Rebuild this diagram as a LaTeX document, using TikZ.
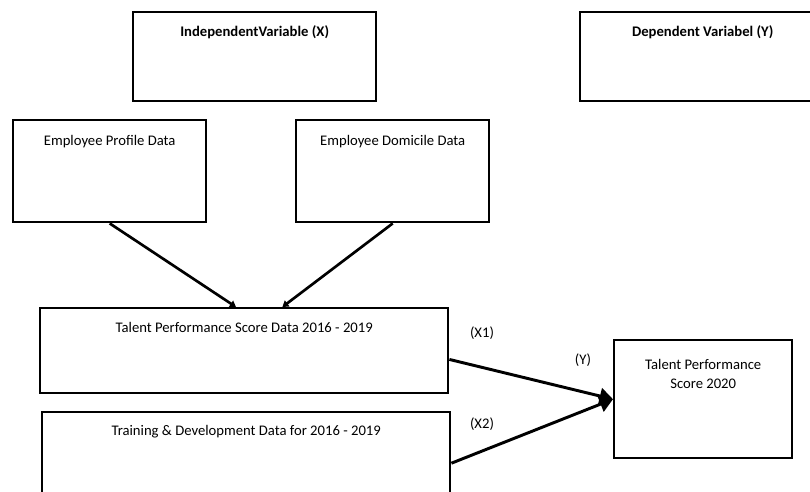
\documentclass[tikz,border=0pt]{standalone}
\usepackage{fontspec}
\setmainfont{Carlito}
\usetikzlibrary{calc, arrows.meta, positioning}

\tikzset{
  box/.style={draw, line width=1.8pt, anchor=north west, inner sep=0pt},
  boxsize/.style 2 args={minimum width=#1*0.75pt, minimum height=#2*0.75pt}
}

\begin{document}
\begin{tikzpicture}[x=0.75pt, y=-0.75pt,
    caption/.style={anchor=base, inner sep=0pt, align=center,
      font=\fontsize{11}{14.25}\selectfont},
    head/.style={caption, font=\fontsize{11}{14.25}\selectfont\bfseries},
    tag/.style={inner sep=0pt, font=\fontsize{11}{14.25}\selectfont},
    feed/.style={line width=2pt, -{Triangle[length=4.5pt,width=5.5pt]}},
    into/.style={line width=2.2pt, -{Triangle[length=10pt,width=12pt]}}]

  \useasboundingbox (0,0) rectangle (810,492);

  % variable headers
  \node[box, boxsize={243}{89}] (indep) at (132,11) {};
  \node[box, boxsize={245}{89}] (dep) at (579,11) {};
  \node[head] (indepT) at ($(indep.north)+(0,26)$) {IndependentVariable (X)};
  \node[head] (depT) at ($(dep.north)+(0,26)$) {Dependent Variabel (Y)};

  % source data
  \node[box, boxsize={193}{102}] (prof) at (12,119) {};
  \node[box, boxsize={193}{102}] (dom) at (295,119) {};
  \node[caption] (profT) at ($(prof.north)+(0,26)$) {Employee Profile Data};
  \node[caption] (domT) at ($(dom.north)+(0,26)$) {Employee Domicile Data};

  % model inputs
  \node[box, boxsize={408}{85}] (tps) at (39,307) {};
  \node[box, boxsize={408}{102}] (trn) at (41,411) {};
  \node[caption] (tpsT) at ($(tps.north)+(0,25)$) {Talent Performance Score Data 2016 - 2019};
  \node[caption] (trnT) at ($(trn.north)+(0,24)$) {Training \& Development Data for 2016 - 2019};

  % output
  \node[box, boxsize={178}{118}] (out) at (613,339) {};
  \node[caption, anchor=north] (outT) at ($(out.north)+(0,20)$) {Talent Performance\\Score 2020};

  \draw[feed] (prof.south) -- ($(tps.north west)!0.48!(tps.north east)$);
  \draw[feed] (dom.south) -- ($(tps.north west)!0.593!(tps.north east)$);

  \draw[into] ($(tps.north east)!0.6!(tps.south east)$) -- (out.west);
  \draw[into] (trn.east) -- (out.west);

  \node[tag] (x1) at (482,333) {(X1)};
  \node[tag] (x2) at (482,424) {(X2)};
  \node[tag] (y) at (583,360) {(Y)};
\end{tikzpicture}
\end{document}
